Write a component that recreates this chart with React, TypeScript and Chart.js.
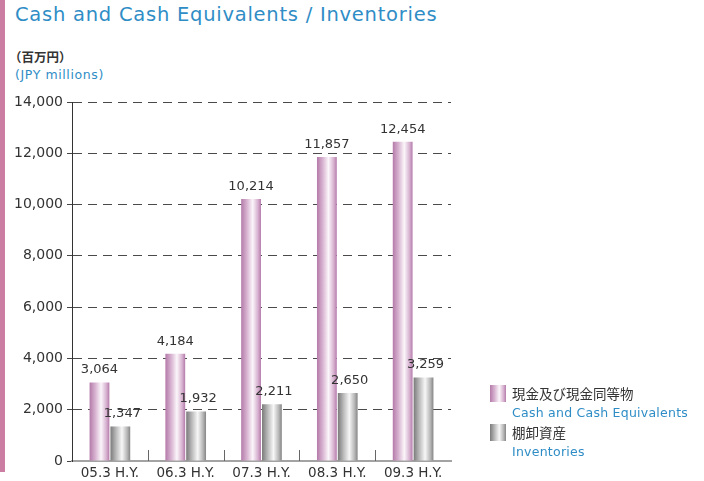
import React, { useEffect, useRef } from 'react';
import { Chart, registerables } from 'chart.js';

Chart.register(...registerables);

const categories = ['05.3 H.Y.', '06.3 H.Y.', '07.3 H.Y.', '08.3 H.Y.', '09.3 H.Y.'];
const cashValues = [3064, 4184, 10214, 11857, 12454];
const inventoryValues = [1347, 1932, 2211, 2650, 3259];
const yMin = 0;
const yMax = 14000;
const yStep = 2000;
const seriesNamesJa = ['現金及び現金同等物', '棚卸資産'];
const seriesNamesEn = ['Cash and Cash Equivalents', 'Inventories'];
const titleText = 'Cash and Cash Equivalents / Inventories';
const unitJa = '（百万円）';
const unitEn = '(JPY millions)';

const FONT = '"DejaVu Sans", sans-serif';
const JFONT = '"Noto Sans CJK JP", sans-serif';
const BLUE = '#2f8dc6';

const pinkStops: [number, string][] = [
  [0, '#b47aa9'],
  [0.3, '#d9b5d2'],
  [0.58, '#fbf6fa'],
  [0.85, '#d6b0cf'],
  [1, '#b57bab'],
];
const grayStops: [number, string][] = [
  [0, '#7a7a7a'],
  [0.3, '#bdbdbd'],
  [0.58, '#f7f7f7'],
  [0.85, '#b5b5b5'],
  [1, '#858585'],
];

const gradientPlugin = {
  id: 'barGradient',
  beforeDatasetsDraw(chart: any) {
    const ctx = chart.ctx;
    chart.data.datasets.forEach((_ds: any, di: number) => {
      const meta = chart.getDatasetMeta(di);
      const stops = di === 0 ? pinkStops : grayStops;
      meta.data.forEach((el: any) => {
        const w = el.width;
        const x0 = el.x - w / 2;
        const g = ctx.createLinearGradient(x0, 0, x0 + w, 0);
        stops.forEach(([o, c]) => g.addColorStop(o, c));
        try {
          el.options.backgroundColor = g;
        } catch (e) {
          /* ignore */
        }
      });
    });
  },
};

const labelPlugin = {
  id: 'valueLabels',
  afterDatasetsDraw(chart: any) {
    const ctx = chart.ctx;
    ctx.save();
    ctx.font = `13px ${FONT}`;
    ctx.fillStyle = '#333';
    ctx.textAlign = 'center';
    ctx.textBaseline = 'bottom';
    chart.data.datasets.forEach((ds: any, di: number) => {
      const meta = chart.getDatasetMeta(di);
      meta.data.forEach((el: any, i: number) => {
        const v = ds.data[i] as number;
        ctx.fillText(v.toLocaleString('en-US'), el.x + (di === 1 ? 2 : 0), el.y - 6);
      });
    });
    ctx.restore();
  },
};

const boundaryTicksPlugin = {
  id: 'boundaryTicks',
  afterDraw(chart: any) {
    const xs = chart.scales.x;
    const ctx = chart.ctx;
    const bottom = chart.chartArea.bottom;
    ctx.save();
    ctx.strokeStyle = '#666';
    ctx.lineWidth = 1;
    for (let i = 1; i < categories.length; i++) {
      const x = Math.round((xs.getPixelForValue(i - 1) + xs.getPixelForValue(i)) / 2) + 0.5;
      ctx.beginPath();
      ctx.moveTo(x, bottom - 11);
      ctx.lineTo(x, bottom);
      ctx.stroke();
    }
    ctx.restore();
  },
};

function ChartCanvas() {
  const ref = useRef<HTMLCanvasElement | null>(null);
  useEffect(() => {
    if (!ref.current) return;
    const chart = new Chart(ref.current, {
      type: 'bar',
      data: {
        labels: categories,
        datasets: [
          {
            label: seriesNamesEn[0],
            data: cashValues,
            backgroundColor: () => '#c99cc1',
            borderWidth: 0,
            barPercentage: 0.95,
            categoryPercentage: 0.55,
          },
          {
            label: seriesNamesEn[1],
            data: inventoryValues,
            backgroundColor: () => '#aaaaaa',
            borderWidth: 0,
            barPercentage: 0.95,
            categoryPercentage: 0.55,
          },
        ],
      },
      options: {
        animation: false,
        responsive: false,
        maintainAspectRatio: false,
        devicePixelRatio: 1,
        layout: { padding: { left: 0, top: 102, right: 253, bottom: 0 } },
        plugins: {
          legend: { display: false },
          tooltip: { enabled: false },
          title: { display: false },
        },
        scales: {
          x: {
            grid: { display: false, drawTicks: false },
            border: { display: true, color: '#a3a3a3', width: 2 },
            ticks: {
              color: '#333',
              font: { family: FONT, size: 13.5 },
              padding: 4,
              maxRotation: 0,
              autoSkip: false,
            },
            afterFit: (s: any) => {
              s.height = 20;
            },
          },
          y: {
            min: yMin,
            max: yMax,
            ticks: {
              stepSize: yStep,
              color: '#333',
              font: { family: FONT, size: 14 },
              padding: 4,
              callback: (v: any) => Number(v).toLocaleString('en-US'),
            },
            grid: {
              color: (c: any) => (c.tick && c.tick.value === 0 ? 'rgba(0,0,0,0)' : '#4a4a4a'),
              lineWidth: 1,
              tickLength: 5,
              tickColor: '#444',
              tickBorderDash: [],
            } as any,
            border: { display: true, color: '#333', width: 1, dash: [9, 6] },
            afterFit: (s: any) => {
              s.width = 72;
            },
          },
        },
      },
      plugins: [gradientPlugin, labelPlugin, boundaryTicksPlugin],
    } as any);
    return () => chart.destroy();
  }, []);
  return (
    <canvas
      ref={ref}
      width={704}
      height={481}
      style={{ position: 'absolute', left: 0, top: 0, width: 704, height: 481 }}
    />
  );
}

function swatch(stops: [number, string][]) {
  const s = stops.map(([o, c]) => `${c} ${o * 100}%`).join(', ');
  return `linear-gradient(to right, ${s})`;
}

export default function App() {
  return (
    <div
      style={{
        position: 'fixed',
        left: 0,
        top: 0,
        width: 704,
        height: 481,
        background: '#fff',
        overflow: 'hidden',
        fontFamily: FONT,
      }}
    >
      <div style={{ position: 'absolute', left: 0, top: 0, width: 5, height: 472, background: '#cc7ea2' }} />
      <div
        style={{
          position: 'absolute',
          left: 15,
          top: 3,
          fontSize: 19.5,
          color: BLUE,
          whiteSpace: 'nowrap',
          letterSpacing: 0.75,
        }}
      >
        {titleText}
      </div>
      <div
        style={{
          position: 'absolute',
          left: 9,
          top: 48,
          fontSize: 12.5,
          color: '#333',
          fontWeight: 'bold',
          whiteSpace: 'nowrap',
          fontFamily: JFONT,
          lineHeight: '18px',
        }}
      >
        {unitJa}
      </div>
      <div
        style={{
          position: 'absolute',
          left: 15,
          top: 66,
          fontSize: 12.5,
          color: BLUE,
          whiteSpace: 'nowrap',
          letterSpacing: 0.6,
          lineHeight: '18px',
        }}
      >
        {unitEn}
      </div>
      <ChartCanvas />
      {[0, 1].map((i) => (
        <div key={i} style={{ position: 'absolute', left: 490, top: i === 0 ? 385 : 424 }}>
          <div
            style={{
              position: 'absolute',
              left: 0,
              top: 0,
              width: 16,
              height: 17,
              background: swatch(i === 0 ? pinkStops : grayStops),
            }}
          />
          <div
            style={{
              position: 'absolute',
              left: 22,
              top: -1,
              fontSize: 13.5,
              color: '#333',
              whiteSpace: 'nowrap',
              fontFamily: JFONT,
              lineHeight: '18px',
            }}
          >
            {seriesNamesJa[i]}
          </div>
          <div
            style={{
              position: 'absolute',
              left: 22,
              top: 19,
              fontSize: 12.5,
              color: BLUE,
              whiteSpace: 'nowrap',
              letterSpacing: 0.25,
              lineHeight: '18px',
            }}
          >
            {seriesNamesEn[i]}
          </div>
        </div>
      ))}
    </div>
  );
}
